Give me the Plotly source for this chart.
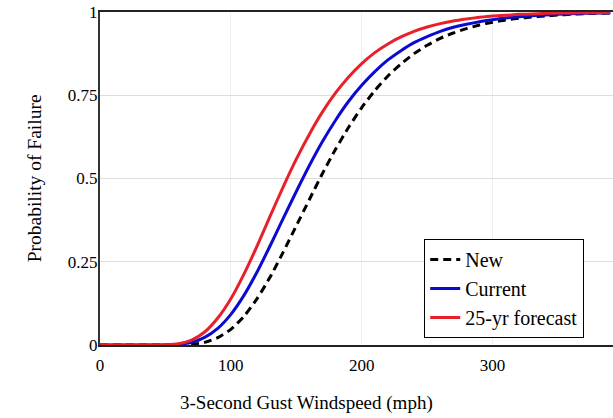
import plotly.graph_objects as go

windspeed = [0, 10, 20, 30, 40, 50, 60, 70, 80, 90, 100, 110, 120, 130, 140, 150, 160, 170, 180, 190,
             200, 210, 220, 230, 240, 250, 260, 270, 280, 290, 300, 310, 320, 330, 340, 350, 360, 370, 380, 390]

p_new = [0, 0, 0, 0, 0, 0, 0.0005, 0.002, 0.008, 0.022, 0.047, 0.086, 0.139, 0.204, 0.279, 0.358, 0.437, 0.515, 0.588, 0.654,
         0.713, 0.764, 0.808, 0.844, 0.875, 0.900, 0.921, 0.937, 0.950, 0.961, 0.969, 0.976, 0.981, 0.985, 0.988, 0.991, 0.993, 0.995, 0.996, 0.997]

p_current = [0, 0, 0, 0, 0, 0.0003, 0.002, 0.008, 0.023, 0.050, 0.092, 0.149, 0.219, 0.298, 0.380, 0.461, 0.539, 0.611, 0.675, 0.732,
             0.780, 0.821, 0.856, 0.884, 0.908, 0.926, 0.942, 0.954, 0.963, 0.971, 0.977, 0.982, 0.986, 0.989, 0.991, 0.993, 0.995, 0.996, 0.997, 0.997]

p_forecast = [0, 0, 0, 0, 0, 0.001, 0.004, 0.015, 0.039, 0.081, 0.139, 0.213, 0.297, 0.387, 0.475, 0.558, 0.633, 0.700, 0.757, 0.805,
              0.845, 0.878, 0.904, 0.925, 0.942, 0.955, 0.965, 0.973, 0.979, 0.984, 0.988, 0.990, 0.993, 0.994, 0.996, 0.997, 0.997, 0.998, 0.998, 0.999]

series_names = ["New", "Current", "25-yr forecast"]

FONT = "Liberation Serif"

fig = go.Figure()
fig.add_trace(go.Scatter(x=windspeed, y=p_new, name=series_names[0], mode="lines",
                         line=dict(color="black", width=3, dash="8px,5px", shape="spline", smoothing=0.6)))
fig.add_trace(go.Scatter(x=windspeed, y=p_current, name=series_names[1], mode="lines",
                         line=dict(color="#0a0ad0", width=3, shape="spline", smoothing=0.6)))
fig.add_trace(go.Scatter(x=windspeed, y=p_forecast, name=series_names[2], mode="lines",
                         line=dict(color="#e8202a", width=3, shape="spline", smoothing=0.6)))

fig.update_layout(
    width=613, height=418,
    margin=dict(l=100, r=0, t=12, b=73),
    paper_bgcolor="white", plot_bgcolor="white",
    font=dict(family=FONT, size=17, color="black"),
    showlegend=True,
    legend=dict(x=0.632, y=0.318, xanchor="left", yanchor="top",
                bgcolor="white", bordercolor="black", borderwidth=1,
                font=dict(family=FONT, size=20, color="black"),
                tracegroupgap=0),
    xaxis=dict(range=[0, 392], tickvals=[0, 100, 200, 300], ticktext=["0", "100", "200", "300"],
               showgrid=True, gridcolor="#efefef", gridwidth=1,
               showline=True, linecolor="#222222", linewidth=2, mirror=True,
               ticks="", zeroline=False, ticklabelstandoff=4,
               tickfont=dict(family=FONT, size=17, color="black")),
    yaxis=dict(range=[0, 1], tickvals=[0, 0.25, 0.5, 0.75, 1], ticktext=["0", "0.25", "0.5", "0.75", "1"],
               showgrid=True, gridcolor="#dddddd", gridwidth=1,
               showline=True, linecolor="#333333", linewidth=2, mirror=False,
               ticks="", zeroline=False, ticklabelstandoff=-3,
               tickfont=dict(family=FONT, size=17, color="black")),
    annotations=[
        dict(text="3-Second Gust Windspeed (mph)", x=0.403, y=-0.175, xref="paper", yref="paper",
             xanchor="center", yanchor="middle", showarrow=False,
             font=dict(family=FONT, size=19, color="black")),
        dict(text="Probability of Failure", x=-0.127, y=0.5, xref="paper", yref="paper",
             xanchor="center", yanchor="middle", showarrow=False, textangle=-90,
             font=dict(family=FONT, size=19.5, color="black")),
    ],
)

fig.write_html("out.html")
